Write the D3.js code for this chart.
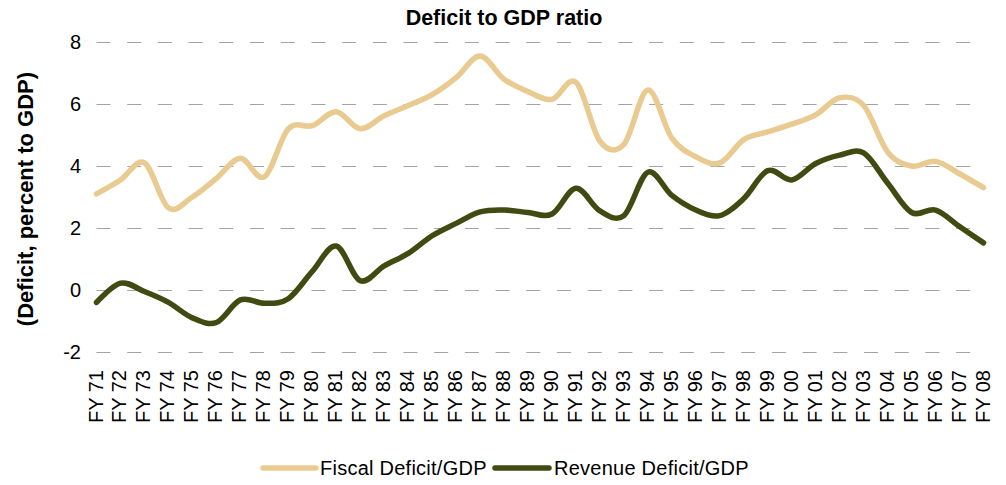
<!DOCTYPE html>
<html>
<head>
<meta charset="utf-8">
<script src="https://cdn.jsdelivr.net/npm/d3@7"></script>
<style>
  html, body { margin: 0; padding: 0; background: #fff; }
  svg { display: block; font-family: "Liberation Sans", Arial, sans-serif; }
</style>
</head>
<body>
<svg id="chart" width="1006" height="485"></svg>
<script>
// Fiscal years shown on the category axis
const years = ["FY 71","FY 72","FY 73","FY 74","FY 75","FY 76","FY 77","FY 78","FY 79","FY 80",
               "FY 81","FY 82","FY 83","FY 84","FY 85","FY 86","FY 87","FY 88","FY 89","FY 90",
               "FY 91","FY 92","FY 93","FY 94","FY 95","FY 96","FY 97","FY 98","FY 99","FY 00",
               "FY 01","FY 02","FY 03","FY 04","FY 05","FY 06","FY 07","FY 08"];

// Fiscal deficit, percent of GDP
const fiscalDeficit = [3.1, 3.55, 4.1, 2.65, 3.0, 3.6, 4.25, 3.65, 5.2, 5.3,
                       5.75, 5.2, 5.62, 5.95, 6.3, 6.85, 7.55, 6.8, 6.4, 6.15,
                       6.7, 4.8, 4.7, 6.45, 4.9, 4.3, 4.1, 4.85, 5.1, 5.35,
                       5.65, 6.2, 5.95, 4.45, 4.0, 4.15, 3.75, 3.3];

// Revenue deficit, percent of GDP
const revenueDeficit = [-0.4, 0.22, -0.05, -0.4, -0.9, -1.05, -0.32, -0.43, -0.28, 0.6,
                        1.42, 0.3, 0.78, 1.18, 1.75, 2.15, 2.52, 2.58, 2.5, 2.45,
                        3.28, 2.55, 2.4, 3.8, 3.05, 2.58, 2.4, 2.95, 3.85, 3.55,
                        4.08, 4.35, 4.42, 3.45, 2.5, 2.58, 2.05, 1.52];

const yTicks = [-2, 0, 2, 4, 6, 8];

const seriesNames = ["Fiscal Deficit/GDP", "Revenue Deficit/GDP"];
const seriesColors = ["#e9cb91", "#414a10"];

const svg = d3.select("#chart");

const plot = { left: 96.5, right: 983.5, top: 42, bottom: 352 };

const x = d3.scalePoint().domain(years).range([plot.left, plot.right]);
const y = d3.scaleLinear().domain([-2, 8]).range([plot.bottom, plot.top]);

// Dashed horizontal gridlines
svg.append("g")
  .attr("transform", `translate(${plot.left},0)`)
  .call(d3.axisLeft(y).tickValues(yTicks).tickSize(-(plot.right + 1.5 - plot.left)).tickFormat(""))
  .call(g => g.select(".domain").remove())
  .call(g => g.selectAll(".tick line")
    .attr("stroke", "#a3a3a3")
    .attr("stroke-width", 1)
    .attr("stroke-dasharray", "14,16.7"));

// Y tick labels (plain hyphen for negatives)
svg.append("g")
  .attr("transform", `translate(${plot.left},0)`)
  .call(d3.axisLeft(y).tickValues(yTicks).tickSize(0).tickPadding(15.5).tickFormat(d => String(d)))
  .call(g => g.select(".domain").remove())
  .call(g => g.selectAll(".tick text")
    .attr("font-size", "20px")
    .attr("font-family", "Liberation Sans, Arial, sans-serif")
    .attr("fill", "#000"));

// X tick labels, rotated
const xAxis = svg.append("g")
  .attr("transform", `translate(0,${plot.bottom})`)
  .call(d3.axisBottom(x).tickSize(0))
  .call(g => g.select(".domain").remove());
xAxis.selectAll(".tick text")
  .attr("font-size", "20px")
  .attr("font-family", "Liberation Sans, Arial, sans-serif")
  .attr("fill", "#000")
  .attr("text-anchor", "end")
  .attr("dy", null)
  .attr("y", null)
  .attr("transform", "translate(5.5,18) rotate(-90)");

// Series lines
const line = d3.line()
  .x((d, i) => x(years[i]))
  .y(d => y(d))
  .curve(d3.curveCatmullRom.alpha(0));

[fiscalDeficit, revenueDeficit].forEach((vals, k) => {
  svg.append("path")
    .datum(vals)
    .attr("fill", "none")
    .attr("stroke", seriesColors[k])
    .attr("stroke-width", 5.5)
    .attr("stroke-linejoin", "round")
    .attr("stroke-linecap", "round")
    .attr("d", line);
});

// Title
svg.append("text")
  .attr("x", 504)
  .attr("y", 25)
  .attr("text-anchor", "middle")
  .attr("font-size", "21.5px")
  .attr("font-weight", "bold")
  .attr("fill", "#000")
  .text("Deficit to GDP ratio");

// Y axis title
svg.append("text")
  .attr("transform", "translate(33,199) rotate(-90)")
  .attr("text-anchor", "middle")
  .attr("font-size", "22px")
  .attr("font-weight", "bold")
  .attr("fill", "#000")
  .text("(Deficit, percent to GDP)");

// Legend
const legendItems = [
  { name: seriesNames[0], color: seriesColors[0], x0: 263, x1: 316, tx: 320 },
  { name: seriesNames[1], color: seriesColors[1], x0: 495, x1: 549, tx: 554 }
];
const legend = svg.append("g");
legendItems.forEach(it => {
  legend.append("line")
    .attr("x1", it.x0).attr("x2", it.x1)
    .attr("y1", 468).attr("y2", 468)
    .attr("stroke", it.color)
    .attr("stroke-width", 5.5)
    .attr("stroke-linecap", "round");
  legend.append("text")
    .attr("x", it.tx)
    .attr("y", 475)
    .attr("font-size", "20px")
    .attr("letter-spacing", "0.25px")
    .attr("fill", "#000")
    .text(it.name);
});
</script>
</body>
</html>
